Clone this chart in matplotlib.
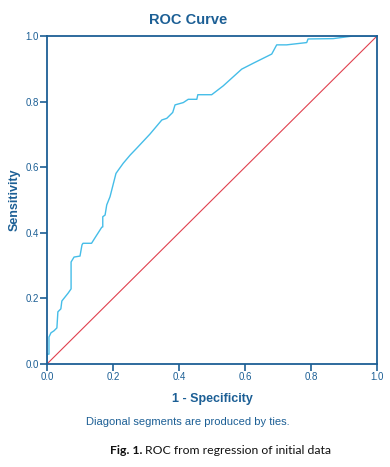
import matplotlib
matplotlib.use("Agg")
import matplotlib.pyplot as plt

# ROC curve points (1 - specificity, sensitivity)
fpr = [0.000, 0.000, 0.006, 0.006, 0.012, 0.021, 0.030, 0.033, 0.042, 0.045,
       0.064, 0.073, 0.073, 0.082, 0.100, 0.106, 0.109, 0.135, 0.145, 0.166,
       0.169, 0.169, 0.176, 0.181, 0.191, 0.209, 0.216, 0.231, 0.252, 0.272,
       0.312, 0.348, 0.363, 0.381, 0.388, 0.413, 0.428, 0.454, 0.457, 0.499,
       0.534, 0.590, 0.625, 0.681, 0.696, 0.726, 0.787, 0.791, 0.867, 0.927,
       1.000]
tpr = [0.000, 0.030, 0.030, 0.082, 0.095, 0.101, 0.110, 0.159, 0.168, 0.192,
       0.216, 0.229, 0.311, 0.326, 0.329, 0.363, 0.368, 0.368, 0.384, 0.417,
       0.418, 0.449, 0.454, 0.485, 0.510, 0.581, 0.591, 0.612, 0.637, 0.658,
       0.701, 0.744, 0.749, 0.767, 0.790, 0.797, 0.807, 0.807, 0.821, 0.821,
       0.848, 0.899, 0.917, 0.945, 0.973, 0.973, 0.980, 0.991, 0.992, 1.000,
       1.000]
ref_line = [0.0, 1.0]
ticks = [0.0, 0.2, 0.4, 0.6, 0.8, 1.0]

blue = "#1c5f95"
curve_col = "#45bde8"
red = "#e0404e"

plt.rcParams['font.family'] = ['Liberation Sans', 'DejaVu Sans']

fig = plt.figure(figsize=(3.9, 4.67), dpi=100)
ax = fig.add_axes([0.1205, 0.2206, 0.8462, 0.7023])

ax.plot(ref_line, ref_line, color=red, lw=0.8)
ax.plot(fpr, tpr, color=curve_col, lw=1.0)

ax.set_xlim(0, 1)
ax.set_ylim(0, 1)
ax.set_xticks(ticks)
ax.set_yticks(ticks)
ax.set_xticklabels([f"{t:.1f}" for t in ticks])
ax.set_yticklabels([f"{t:.1f}" for t in ticks])
ax.tick_params(colors=blue, labelsize=7, length=5, width=1.2, pad=1)
for s in ax.spines.values():
    s.set_color(blue)
    s.set_linewidth(1.3)

ax.set_xlabel("1 - Specificity", color=blue, fontsize=9, fontweight="bold", labelpad=8)
fig.text(15 / 390, 1 - 200 / 467, "Sensitivity", color=blue, fontsize=9,
         fontweight="bold", rotation=90, ha="center", va="center")

fig.text(188 / 390, 1 - 20 / 467, "ROC Curve", color=blue, fontsize=10.5,
         fontweight="bold", ha="center", va="center")
fig.text(188 / 390, 1 - 422 / 467, "Diagonal segments are produced by ties.",
         color=blue, fontsize=8, ha="center", va="center")

# caption: bold "Fig. 1." followed by normal text
t1 = fig.text(110 / 390, 1 - 451 / 467, "Fig. 1.", fontsize=8.8, fontweight="bold",
              family="Lato", ha="left", va="center", color="#111111")
fig.canvas.draw()
bb = t1.get_window_extent()
fig.text((bb.x1 + 3) / (3.9 * 100), 1 - 451 / 467, "ROC from regression of initial data",
         fontsize=8.8, family="Lato", ha="left", va="center", color="#111111")

fig.savefig("out.png", dpi=100)
